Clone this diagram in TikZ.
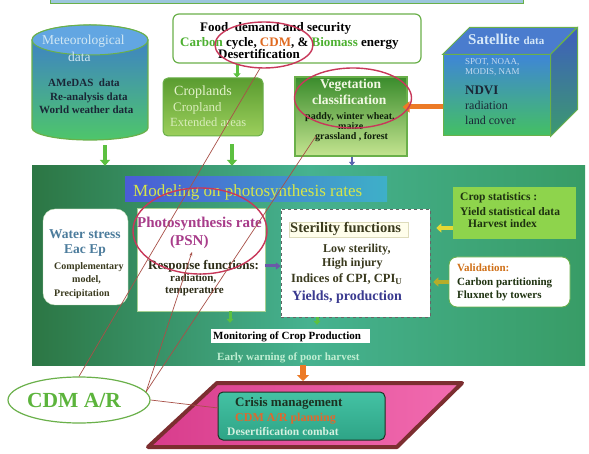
\documentclass[tikz,border=0pt]{standalone}
\usepackage{fontspec}
\setmainfont{Liberation Serif}
\usetikzlibrary{arrows.meta,shapes.geometric,calc}
\newcommand{\myfs}[1]{\fontsize{#1}{#1}\selectfont}
\definecolor{bdGreen}{HTML}{6AB04A}
\definecolor{arGreen}{HTML}{5CC040}
\definecolor{redEll}{HTML}{C8385A}
\definecolor{lineRed}{HTML}{A85048}
\definecolor{cGreen}{HTML}{4CB030}
\definecolor{cOrange}{HTML}{E06A20}
\definecolor{metTop}{HTML}{3C7AD0}
\definecolor{metBot}{HTML}{4EC66A}
\definecolor{metCap}{HTML}{62A6E2}
\definecolor{metText}{HTML}{D2E8F4}
\definecolor{darkText}{HTML}{1A2636}
\definecolor{cropTop}{HTML}{5A9C30}
\definecolor{cropBot}{HTML}{9CCF5C}
\definecolor{cropText}{HTML}{E4F2CC}
\definecolor{vegTop}{HTML}{3A8C2C}
\definecolor{vegBot}{HTML}{C4E490}
\definecolor{vegText}{HTML}{F2F8E4}
\definecolor{vegSmall}{HTML}{0E1E0A}
\definecolor{satTop}{HTML}{3F86D6}
\definecolor{satBot}{HTML}{44C062}
\definecolor{satFace}{HTML}{4A7CCE}
\definecolor{satSideT}{HTML}{3E5EBE}
\definecolor{satSideB}{HTML}{3C9A6E}
\definecolor{satText}{HTML}{D6E8F8}
\definecolor{satSmall}{HTML}{C4DAF0}
\definecolor{panelA}{HTML}{2C7644}
\definecolor{panelB}{HTML}{46B290}
\definecolor{panelC}{HTML}{389C66}
\definecolor{titleL}{HTML}{4A5CD6}
\definecolor{titleR}{HTML}{3EB0C8}
\definecolor{titleText}{HTML}{D6E64A}
\definecolor{waterText}{HTML}{4C7C9C}
\definecolor{oliveText}{HTML}{3A3A1E}
\definecolor{psnText}{HTML}{A83C8A}
\definecolor{yieldText}{HTML}{3A3A90}
\definecolor{statFill}{HTML}{8ED44C}
\definecolor{statText}{HTML}{1E3210}
\definecolor{valOrange}{HTML}{D07018}
\definecolor{warnText}{HTML}{C0EED2}
\definecolor{crisTop}{HTML}{44C2A4}
\definecolor{crisBot}{HTML}{2EA486}
\definecolor{crisDark}{HTML}{1C3222}
\definecolor{crisOrange}{HTML}{E0682E}
\definecolor{crisLight}{HTML}{D4F0E0}
\definecolor{maroonB}{HTML}{7C2E30}
\definecolor{pinkL}{HTML}{D83C8C}
\definecolor{pinkR}{HTML}{F26CB0}
\definecolor{arOrange}{HTML}{EC7A26}
\definecolor{arYellow}{HTML}{E4D834}
\definecolor{arPurple}{HTML}{6A5AA8}
\definecolor{arBlue}{HTML}{5A64B0}
\definecolor{stripBlue}{HTML}{9CC6DC}
\definecolor{cdmText}{HTML}{5CB43C}
\begin{document}
\begin{tikzpicture}[x=1pt,y=-1pt,
  ln/.style={inner sep=0pt, anchor=base west},
  plainbox/.style={inner sep=0pt},
  garrow/.style={draw=arGreen, line width=4pt, -{Triangle[width=10pt,length=6pt]}},
  sgarrow/.style={draw=arGreen, line width=3pt, -{Triangle[width=7pt,length=4pt]}},
  redell/.style={draw=redEll, line width=1.4pt, ellipse, inner sep=0pt},
  link/.style={draw=lineRed, line width=0.7pt},
]
\useasboundingbox (0,0) rectangle (589,454);
\fill[white] (0,0) rectangle (589,454);

% top strip
\node[plainbox, draw=bdGreen, fill=stripBlue, line width=0.8pt, minimum width=473, minimum height=6] (strip) at (286.5,0) {};

% food box
\node[plainbox, draw=bdGreen, line width=1.2pt, fill=white, rounded corners=6pt, minimum width=248, minimum height=49] (food) at (297,38.5) {};
\node[ln, font=\bfseries\myfs{13}] (foodA) at (200,32) {Food\ \ demand and security};
\node[ln, font=\bfseries\myfs{13}] (foodB) at (180,47) {\textcolor{cGreen}{Carbon} cycle, \textcolor{cOrange}{CDM}, \& \textcolor{cGreen}{Biomass} energy};
\node[ln, font=\bfseries\myfs{13}] (foodC) at (218,58.5) {Desertification};

% meteorological cylinder
\path[draw=bdGreen, line width=1.2pt, top color=metTop, bottom color=metBot]
  (32,40) -- (32,128) arc[start angle=180, end angle=0, x radius=58, y radius=12]
  -- (148,40) arc[start angle=0, end angle=-180, x radius=58, y radius=15] -- cycle;
\path[draw=bdGreen, line width=1pt, fill=metCap] (90,40) ellipse[x radius=58, y radius=15];
\node[plainbox, minimum width=116, minimum height=115] (met) at (90,82.5) {};
\node[ln, font=\myfs{13.5}, text=metText] (metA) at (42,44.5) {Meteorological};
\node[ln, font=\myfs{13.5}, text=metText] (metB) at (68,61.5) {data};
\node[ln, font=\bfseries\myfs{11}, text=darkText] (metC) at (48,87) {AMeDAS\ \ data};
\node[ln, font=\bfseries\myfs{11}, text=darkText] (metD) at (50,101) {Re-analysis data};
\node[ln, font=\bfseries\myfs{11}, text=darkText] (metE) at (39,113.5) {World weather data};

% croplands
\node[plainbox, draw=bdGreen, line width=1pt, rounded corners=5pt, top color=cropTop, bottom color=cropBot, minimum width=100, minimum height=58] (crop) at (213,107) {};
\node[ln, font=\myfs{14}, text=cropText] (cropA) at (174,96) {Croplands};
\node[ln, font=\myfs{13}, text=cropText!85!cropBot] (cropB) at (173,112) {Cropland};
\node[ln, font=\myfs{12.5}, text=cropText!85!cropBot] (cropC) at (170,126.5) {Extended areas};

% vegetation
\node[plainbox, draw=bdGreen, line width=1.2pt, top color=vegTop, bottom color=vegBot, minimum width=112, minimum height=79] (veg) at (351,116.5) {};
\node[ln, font=\bfseries\myfs{13.5}, text=vegText] (vegA) at (320,88.5) {Vegetation};
\node[ln, font=\bfseries\myfs{13.5}, text=vegText] (vegB) at (312,105) {classification};
\node[ln, font=\bfseries\myfs{10}, text=vegSmall] (vegC) at (305,120) {paddy, winter wheat,};
\node[ln, font=\bfseries\myfs{10}, text=vegSmall] (vegD) at (338,129.5) {maize};
\node[ln, font=\bfseries\myfs{10}, text=vegSmall] (vegE) at (315,140) {grassland , forest};

% satellite cube
\node[plainbox, draw=bdGreen, line width=1pt, top color=satTop, bottom color=satBot, minimum width=107, minimum height=81] (sat) at (496.5,95.5) {};
\path[draw=bdGreen, line width=1pt, fill=satFace] (sat.north west) -- ++(27,-27) -- ++(107,0) -- (sat.north east) -- cycle;
\path[draw=bdGreen, line width=1pt, top color=satSideT, bottom color=satSideB] (sat.north east) -- ++(27,-27) -- ++(0,82) -- (sat.south east) -- cycle;
\node[ln, font=\bfseries, text=satText] (satA) at (468,45) {{\myfs{15}Satellite }{\myfs{11}data}};
\node[ln, font=\myfs{9}, text=satSmall] (satB) at (465,65) {SPOT, NOAA,};
\node[ln, font=\myfs{9}, text=satSmall] (satC) at (465,75) {MODIS, NAM};
\node[ln, font=\bfseries\myfs{13}, text=darkText] (satD) at (465,95) {NDVI};
\node[ln, font=\myfs{12}, text=darkText] (satE) at (465,110) {radiation};
\node[ln, font=\myfs{12}, text=darkText] (satF) at (465,125) {land cover};

% big panel
\node[plainbox, left color=panelA, right color=panelC, middle color=panelB, minimum width=553, minimum height=199] (panel) at (308.5,265.5) {};
\node[plainbox, left color=titleL, right color=titleR, minimum width=262, minimum height=25] (title) at (256,189.5) {};
\node[ln, font=\myfs{17}, text=titleText] (titleT) at (133,196.5) {Modeling on photosynthesis rates};

% water stress
\node[plainbox, draw=bdGreen!40, fill=white, rounded corners=12pt, minimum width=85, minimum height=96] (water) at (85.5,257) {};
\node[ln, font=\bfseries\myfs{13.5}, text=waterText] (watA) at (49,239) {Water stress};
\node[ln, font=\bfseries\myfs{13.5}, text=waterText] (watB) at (64,254) {Eac Ep};
\node[ln, font=\bfseries\myfs{10}, text=oliveText] (watC) at (54,270) {Complementary};
\node[ln, font=\bfseries\myfs{10}, text=oliveText] (watD) at (72,283) {model,};
\node[ln, font=\bfseries\myfs{10}, text=oliveText] (watE) at (54,297) {Precipitation};

% photosynthesis
\node[plainbox, draw=bdGreen!60, fill=white, minimum width=128, minimum height=103] (psn) at (201,259.5) {};
\node[ln, font=\bfseries\myfs{15}, text=psnText] (psnA) at (137,228) {Photosynthesis rate};
\node[ln, font=\bfseries\myfs{15}, text=psnText] (psnB) at (170,246) {(PSN)};
\node[ln, font=\bfseries\myfs{13}, text=oliveText!80!black] (psnC) at (148,270) {Response functions:};
\node[ln, font=\bfseries\myfs{11}, text=oliveText!80!black] (psnD) at (170,282) {radiation,};
\node[ln, font=\bfseries\myfs{11}, text=oliveText!80!black] (psnE) at (165,294) {temperature};

% sterility
\node[plainbox, draw=black!60, dashed, line width=0.5pt, fill=white, minimum width=149, minimum height=108] (ster) at (355.5,263) {};
\node[plainbox, draw=yellow!50!black!30, fill=yellow!8, minimum width=119, minimum height=15] (sterhl) at (348.5,229.5) {};
\node[ln, font=\bfseries\myfs{14.5}, text=oliveText] (stA) at (290,233) {Sterility functions};
\node[ln, font=\bfseries\myfs{12}, text=oliveText] (stB) at (323,253) {Low sterility,};
\node[ln, font=\bfseries\myfs{12}, text=oliveText] (stC) at (322,266.5) {High injury};
\node[ln, font=\bfseries\myfs{12.5}, text=oliveText] (stD) at (291,283) {Indices of CPI, CPI\textsubscript{U}};
\node[ln, font=\bfseries\myfs{14}, text=yieldText] (stE) at (292,301) {Yields, production};

% crop statistics
\node[plainbox, fill=statFill, minimum width=123, minimum height=52] (stat) at (514.5,213) {};
\node[ln, font=\bfseries\myfs{11.5}, text=statText] (statA) at (460,201) {Crop statistics :};
\node[ln, font=\bfseries\myfs{11.5}, text=statText] (statB) at (460,216) {Yield statistical data};
\node[ln, font=\bfseries\myfs{11.5}, text=statText] (statC) at (468,228) {Harvest index};

% validation
\node[plainbox, draw=bdGreen, fill=white, rounded corners=8pt, line width=0.8pt, minimum width=121, minimum height=50] (valid) at (509.5,282) {};
\node[ln, font=\bfseries\myfs{11}, text=valOrange] (valA) at (457,272) {Validation:};
\node[ln, font=\bfseries\myfs{11}, text=statText] (valB) at (457,286) {Carbon partitioning};
\node[ln, font=\bfseries\myfs{11}, text=statText] (valC) at (457,299) {Fluxnet by towers};

% monitoring
\node[plainbox, fill=white, minimum width=159, minimum height=14] (mon) at (290.5,336) {};
\node[ln, font=\bfseries\myfs{11}] (monT) at (213,339) {Monitoring of Crop Production};
\node[ln, font=\bfseries\myfs{11}, text=warnText] (warnT) at (217,360) {Early warning of poor harvest};

% crisis
\path[draw=maroonB, line width=4pt, left color=pinkL, right color=pinkR, line join=round] (217,383) -- (462,383) -- (397,447) -- (148,447) -- cycle;
\coordinate (crisistop) at (303,381);
\node[plainbox, draw=crisDark, line width=1pt, rounded corners=5pt, top color=crisTop, bottom color=crisBot, minimum width=167, minimum height=48] (crisin) at (301.5,416) {};
\node[ln, font=\bfseries\myfs{13}, text=crisDark] (crA) at (235,406) {Crisis management};
\node[ln, font=\bfseries\myfs{12}, text=crisOrange] (crB) at (235,421) {CDM A/R planning};
\node[ln, font=\bfseries\myfs{11.5}, text=crisLight] (crC) at (227,435) {Desertification combat};

% CDM A/R
\node[ellipse, draw=bdGreen, line width=1.2pt, fill=white, minimum width=142, minimum height=46, inner sep=0pt] (cdmar) at (79,400) {};
\node[ln, font=\bfseries\myfs{21.5}, text=cdmText] (cdmarT) at (27,407) {CDM A/R};

% arrows
\draw[sgarrow] (237,0 |- food.south) -- (237,0 |- crop.north);
\draw[garrow, shorten <=5pt] (105,0 |- met.south) -- (105,0 |- panel.north);
\draw[garrow, shorten <=8pt] (232,0 |- crop.south) -- (232,0 |- panel.north);
\draw[draw=arBlue, line width=2.5pt, -{Triangle[width=6pt,length=4pt]}] (352,0 |- veg.south) -- (352,0 |- panel.north);
\draw[draw=arOrange, line width=5pt, -{Triangle[width=11pt,length=7pt]}, shorten >=-5pt] (sat.west |- 0,107) -- (veg.east |- 0,107);
\draw[draw=arPurple, line width=3pt, -{Triangle[width=7pt,length=5pt]}] (psn.east |- 0,266) -- (ster.west |- 0,266);
\draw[draw=arYellow, line width=4pt, -{Triangle[width=9pt,length=5pt]}, shorten >=6pt] (stat.west |- 0,228) -- (ster.east |- 0,228);
\draw[draw=arYellow!80!black, line width=4pt, -{Triangle[width=9pt,length=5pt]}, shorten >=3pt] (valid.west |- 0,282) -- (ster.east |- 0,282);
\draw[sgarrow, shorten >=6pt] (230,0 |- psn.south) -- (230,0 |- mon.north);
\draw[sgarrow, shorten >=4pt] (317,0 |- ster.south) -- (317,0 |- mon.north);
\draw[draw=arOrange, line width=6pt, -{Triangle[width=12pt,length=6pt]}] (303,0 |- panel.south) -- (crisistop);

% red ellipses
\node[redell, minimum width=98, minimum height=46] (cdmell) at (264,45) {};
\node[redell, minimum width=117, minimum height=60] (vegell) at (353,98) {};
\node[redell, minimum width=134, minimum height=86] (psnell) at (200,231) {};

% links from CDM A/R
\coordinate (psntip) at (192,252);
\coordinate (vegtip) at (316,136);
\coordinate (crisistip) at (218,408);
\draw[link] (cdmar.north) -- (cdmell.260);
\draw[link, -{Stealth[length=4pt,width=3pt]}] (cdmar.7) -- (psntip);
\draw[link] (cdmar.7) -- (vegtip);
\draw[link] (cdmar.east) -- (crisistip);
\end{tikzpicture}
\end{document}
